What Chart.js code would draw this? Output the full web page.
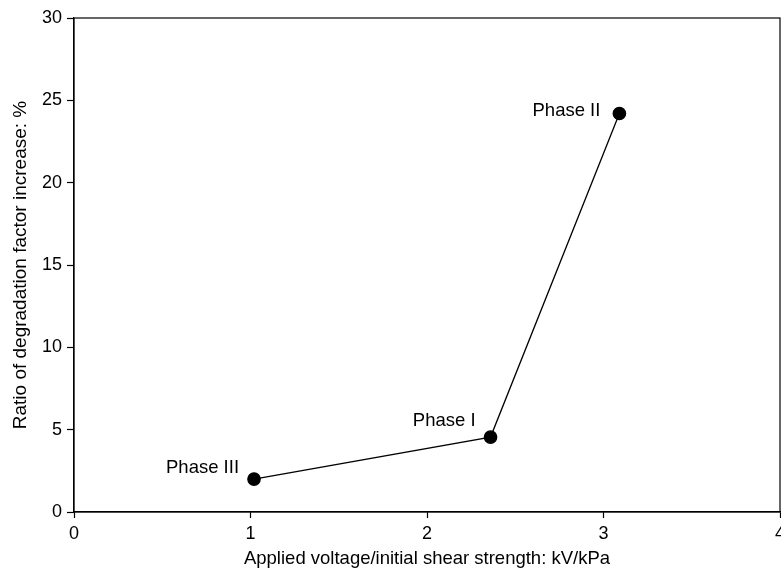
<!DOCTYPE html>
<html>
<head>
<meta charset="utf-8">
<script src="https://cdn.jsdelivr.net/npm/chart.js@4"></script>
<style>
  html, body { margin: 0; padding: 0; background: #fff; }
  #wrap { width: 781px; height: 571px; }
</style>
</head>
<body>
<div id="wrap"><canvas id="c" width="781" height="571"></canvas></div>
<script>
// Measured points: applied voltage / initial shear strength vs. degradation increase
const phaseNames = ['Phase III', 'Phase I', 'Phase II'];
const voltageRatio = [1.02, 2.36, 3.09];
const degradationIncrease = [2.0, 4.55, 24.2];
const xTicks = [0, 1, 2, 3, 4];
const yTicks = [0, 5, 10, 15, 20, 25, 30];

// Where each phase label sits relative to its marker (pixels)
const labelOffsets = [
  { dx: -15, dy: -11 },
  { dx: -15, dy: -16 },
  { dx: -19, dy: -3 }
];

const FONT = 'Liberation Sans, Arial, Helvetica, sans-serif';

const points = voltageRatio.map((x, i) => ({ x, y: degradationIncrease[i] }));

const frame = {
  id: 'frame',
  afterDraw(chart) {
    const { ctx, chartArea: a } = chart;
    ctx.save();
    ctx.strokeStyle = '#000';
    ctx.lineWidth = 1.2;
    ctx.strokeRect(a.left, a.top, a.right - a.left, a.bottom - a.top);
    ctx.restore();
  }
};

const phaseLabels = {
  id: 'phaseLabels',
  afterDatasetsDraw(chart) {
    const { ctx, scales } = chart;
    ctx.save();
    ctx.font = '18.5px ' + FONT;
    ctx.fillStyle = '#000';
    ctx.textAlign = 'right';
    ctx.textBaseline = 'middle';
    phaseNames.forEach((name, i) => {
      const px = scales.x.getPixelForValue(voltageRatio[i]);
      const py = scales.y.getPixelForValue(degradationIncrease[i]);
      ctx.fillText(name, px + labelOffsets[i].dx, py + labelOffsets[i].dy);
    });
    ctx.restore();
  }
};

new Chart(document.getElementById('c'), {
  type: 'scatter',
  data: {
    datasets: [{
      data: points,
      showLine: true,
      borderColor: '#000',
      borderWidth: 1.3,
      backgroundColor: '#000',
      pointBackgroundColor: '#000',
      pointBorderColor: '#000',
      pointRadius: 6.2,
      tension: 0,
      clip: false
    }]
  },
  options: {
    responsive: false,
    animation: false,
    devicePixelRatio: 1,
    layout: { autoPadding: false, padding: { top: 18, right: 1, left: 0, bottom: 0 } },
    plugins: {
      legend: { display: false },
      tooltip: { enabled: false }
    },
    scales: {
      x: {
        type: 'linear',
        min: 0,
        max: 4,
        afterBuildTicks(scale) { scale.ticks = xTicks.map(v => ({ value: v })); },
        afterFit(scale) { scale.height = 59; scale.paddingLeft = 0; scale.paddingRight = 0; },
        ticks: { color: '#000', font: { family: FONT, size: 18 }, padding: 5 },
        grid: { drawOnChartArea: false, drawTicks: true, tickLength: 6, color: '#000', tickWidth: 1.2 },
        border: { display: true, color: '#000', width: 1.2 },
        title: {
          display: true,
          text: 'Applied voltage/initial shear strength: kV/kPa',
          color: '#000',
          font: { family: FONT, size: 18.5 },
          padding: { top: 0, bottom: 1 }
        }
      },
      y: {
        type: 'linear',
        min: 0,
        max: 30,
        afterBuildTicks(scale) { scale.ticks = yTicks.map(v => ({ value: v })); },
        afterFit(scale) { scale.width = 74; scale.paddingTop = 0; scale.paddingBottom = 0; },
        ticks: { color: '#000', font: { family: FONT, size: 18 }, padding: 5 },
        grid: { drawOnChartArea: false, drawTicks: true, tickLength: 7, color: '#000', tickWidth: 1.2 },
        border: { display: true, color: '#000', width: 1.2 },
        title: {
          display: true,
          text: 'Ratio of degradation factor increase: %',
          color: '#000',
          font: { family: FONT, size: 19 },
          padding: { top: 9, bottom: 0 }
        }
      }
    }
  },
  plugins: [frame, phaseLabels]
});
</script>
</body>
</html>
